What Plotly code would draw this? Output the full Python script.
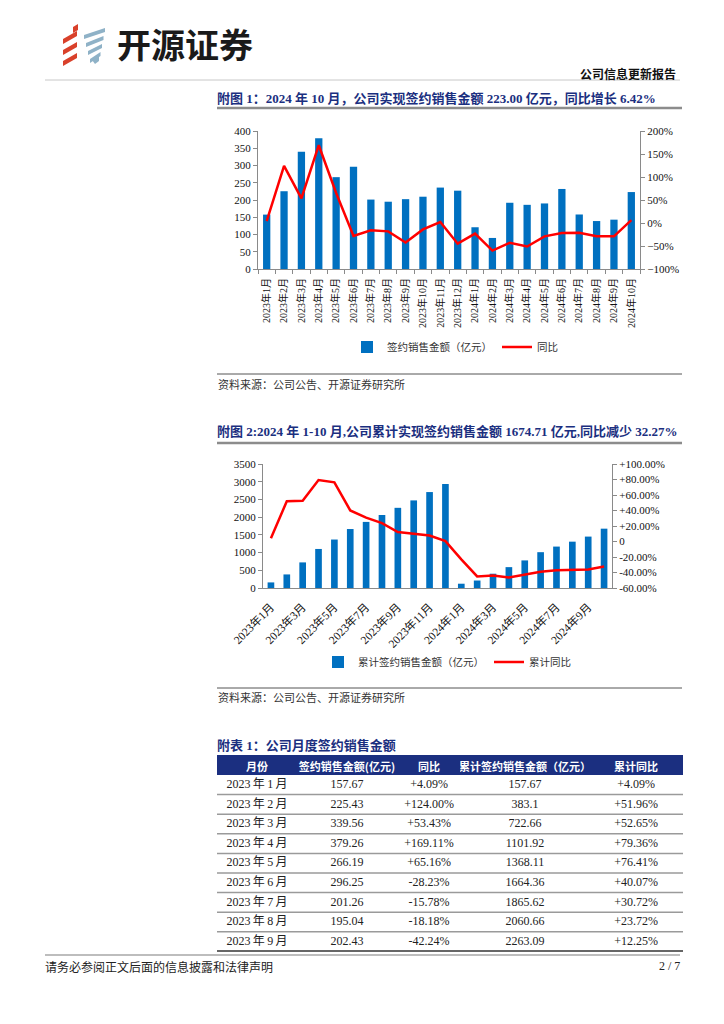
import plotly.graph_objects as go

# The page body adds an 8px margin around the figure, so the figure is 16px smaller
# than the window and page-pixel coordinates are converted with that offset.
OFF = 8
W, H = 724 - 2 * OFF, 1024 - 2 * OFF

# ---------------- data ----------------
categories = [f"2023年{m}月" for m in range(1, 13)] + [f"2024年{m}月" for m in range(1, 11)]
monthly_sales = [157.67, 225.43, 339.56, 379.26, 266.19, 296.25, 201.26, 195.04, 202.43,
                 209.55, 236.0, 227.0, 121.0, 90.0, 192.0, 186.0, 190.0, 232.0, 158.0,
                 139.0, 143.0, 223.00]
monthly_yoy = [4.09, 124.00, 53.43, 169.11, 65.16, -28.23, -15.78, -18.18, -42.24,
               -14.0, 2.0, -45.0, -23.0, -60.0, -43.0, -51.0, -29.0, -22.0, -21.0,
               -29.0, -29.0, 6.42]
cum_sales = [157.67, 383.1, 722.66, 1101.92, 1368.11, 1664.36, 1865.62, 2060.66, 2263.09,
             2472.6, 2708.0, 2935.0, 121.0, 211.0, 403.0, 589.0, 779.0, 1011.0, 1169.0,
             1308.0, 1451.0, 1674.71]
cum_yoy = [4.09, 51.96, 52.65, 79.36, 76.41, 40.07, 30.72, 23.72, 12.25,
           9.5, 7.7, 0.5, -23.0, -45.0, -44.0, -46.5, -43.0, -39.0, -37.0, -36.5,
           -36.0, -32.27]

chart2_ticks = categories[0::2]
y2_right_vals = [-60, -40, -20, 0, 20, 40, 60, 80, 100]
y2_right_text = ["-60.00%", "-40.00%", "-20.00%", "0", "+20.00%", "+40.00%",
                 "+60.00%", "+80.00%", "+100.00%"]

table_rows = 9
table_header = ["月份", "签约销售金额(亿元)", "同比", "累计签约销售金额（亿元）", "累计同比"]
table_months = [f"2023\u2009年\u2009{m}\u2009月" for m in range(1, table_rows + 1)]

# ---------------- helpers ----------------
def X(px):
    return (px - OFF) / W

def Y(py):
    return 1 - (py - OFF) / H

SERIF = "Liberation Serif, Noto Sans CJK SC, serif"
CJK = "Noto Sans CJK SC, sans-serif"
NAVY = "#1B2F80"
BLUE = "#0070C0"
RED = "#FF0000"
AX = "#8a8a8a"
CLEAR = "rgba(0,0,0,0)"

fig = go.Figure()

# ---------------- chart 1 ----------------
fig.add_trace(go.Bar(x=categories, y=monthly_sales, name="签约销售金额（亿元）",
                     marker_color=BLUE, xaxis="x", yaxis="y", legend="legend"))
fig.add_trace(go.Scatter(x=categories, y=monthly_yoy, name="同比", mode="lines",
                         line=dict(color=RED, width=2.5), xaxis="x", yaxis="y2",
                         legend="legend"))

# ---------------- chart 2 ----------------
fig.add_trace(go.Bar(x=categories, y=cum_sales, name="累计签约销售金额（亿元）",
                     marker_color=BLUE, xaxis="x2", yaxis="y3", legend="legend2"))
fig.add_trace(go.Scatter(x=categories, y=cum_yoy, name="累计同比", mode="lines",
                         line=dict(color=RED, width=2.5), xaxis="x2", yaxis="y4",
                         legend="legend2"))

# ---------------- table ----------------
fig.add_trace(go.Table(
    domain=dict(x=[X(217), X(683)], y=[Y(951), Y(755)]),
    columnwidth=[80, 100, 64, 128, 94],
    header=dict(values=table_header,
                fill_color=CLEAR, line_color=CLEAR, align="center", height=16,
                font=dict(family=CJK, size=11, color="white", weight="bold")),
    cells=dict(values=[table_months,
                       [f"{v:.2f}" for v in monthly_sales[:table_rows]],
                       [f"{v:+.2f}%" for v in monthly_yoy[:table_rows]],
                       [f"{v:g}" for v in cum_sales[:table_rows]],
                       [f"{v:+.2f}%" for v in cum_yoy[:table_rows]]],
               fill_color=CLEAR, line_color=CLEAR, align="center",
               height=19.6, font=dict(family=SERIF, size=12, color="#222"))
))

axis_common = dict(showline=True, linecolor=AX, linewidth=1, ticks="outside",
                   tickcolor=AX, ticklen=4, showgrid=False, zeroline=False,
                   automargin=False,
                   tickfont=dict(family=SERIF, size=11, color="#111"))
axis_nofont = {k: v for k, v in axis_common.items() if k != "tickfont"}

fig.update_layout(
    template="none",
    width=W, height=H, margin=dict(l=0, r=0, t=0, b=0, pad=0, autoexpand=False),
    paper_bgcolor="white", plot_bgcolor="white", showlegend=True,
    bargap=0.58,
    xaxis=dict(domain=[X(258), X(640)], anchor="y", type="category",
               tickangle=-90, tickson="boundaries", ticklabelstandoff=4, **axis_nofont,
               tickfont=dict(family=SERIF, size=10, color="#111")),
    yaxis=dict(domain=[Y(269), Y(131)], anchor="x", range=[0, 400], dtick=50,
               **axis_common),
    yaxis2=dict(overlaying="y", side="right", anchor="x", range=[-100, 200], dtick=50,
                ticksuffix="%", **axis_common),
    xaxis2=dict(domain=[X(263), X(612)], anchor="y3", type="category",
                tickangle=-45, tickvals=chart2_ticks, ticktext=chart2_ticks,
                showline=True, linecolor=AX, linewidth=1, ticks="", showgrid=False,
                zeroline=False, automargin=False, ticklabelstandoff=7,
                tickfont=dict(family=SERIF, size=11.5, color="#111")),
    yaxis3=dict(domain=[Y(588), Y(464)], anchor="x2", range=[0, 3500], dtick=500,
                **axis_common),
    yaxis4=dict(overlaying="y3", side="right", anchor="x2", range=[-60, 100],
                tickvals=y2_right_vals, ticktext=y2_right_text, **axis_common),
    legend=dict(orientation="h", x=X(347), y=Y(347), xanchor="left", yanchor="middle",
                font=dict(family=CJK, size=10.5, color="#333"), bgcolor=CLEAR,
                traceorder="normal", itemwidth=30),
    legend2=dict(orientation="h", x=X(318), y=Y(662), xanchor="left", yanchor="middle",
                 font=dict(family=CJK, size=10.5, color="#333"), bgcolor=CLEAR,
                 traceorder="normal", itemwidth=30),
)

# ---------------- shapes ----------------
shapes = []

def hline(py, x0, x1, color, width):
    shapes.append(dict(type="line", xref="paper", yref="paper", x0=X(x0), x1=X(x1),
                       y0=Y(py), y1=Y(py), line=dict(color=color, width=width),
                       layer="above"))

# table header band (drawn beneath the table text)
shapes.append(dict(type="rect", xref="paper", yref="paper", x0=X(217), x1=X(683),
                   y0=Y(775), y1=Y(755), fillcolor=NAVY, line=dict(width=0),
                   layer="below"))

hline(80, 45, 680, "#c8c8c8", 1)        # header rule
hline(108, 217, 682, "#8c8c8c", 2.5)     # chart 1 title rule
hline(374, 217, 682, "#555555", 1)       # chart 1 source rule
hline(443, 217, 682, "#8c8c8c", 2.5)     # chart 2 title rule
hline(688, 217, 682, "#555555", 1)       # chart 2 source rule
for i in range(1, table_rows):
    hline(775 + 19.6 * i, 217, 683, "#9a9a9a", 1.5)
hline(951, 217, 683, "#333333", 1.5)
hline(955, 45, 680, "#bdbdbd", 2)        # footer rule

def poly(pts, color):
    d = "M" + " L".join(f"{X(px)},{Y(py)}" for px, py in pts) + " Z"
    shapes.append(dict(type="path", xref="paper", yref="paper", path=d,
                       fillcolor=color, line=dict(width=0)))

# logo (approximation)
RED_L = "#D9412B"
BLUE_L = "#8FB2C7"
for k in range(3):
    y0 = 29 + k * 11
    poly([(63, y0 + 10), (77, y0 + 2), (77, y0 + 7), (63, y0 + 15)], RED_L)
poly([(73, 27), (78, 24), (78, 30), (73, 33)], RED_L)
for k in range(4):
    y0 = 28 + k * 8
    poly([(84 + k * 2, y0 + 7), (105 - k * 1.5, y0), (105 - k * 1.5, y0 + 4), (84 + k * 2, y0 + 11)], BLUE_L)
poly([(92, 60), (99, 56), (99, 61), (95, 64)], BLUE_L)

fig.update_layout(shapes=shapes)

# ---------------- text ----------------
ann = []

def text(px, py, s, size, color="#111", family=CJK, xanchor="left", yanchor="middle"):
    dx = -2 if xanchor == "left" else 2
    ann.append(dict(xref="paper", yref="paper", x=X(px + dx), y=Y(py), text=s, showarrow=False,
                    xanchor=xanchor, yanchor=yanchor,
                    font=dict(family=family, size=size, color=color)))

text(117, 44, "<b>开源证券</b>", 34, "#1a1a1a")
text(676, 73, "<b>公司信息更新报告</b>", 12, "#111", xanchor="right")
text(217, 98, "<b>附图 1：2024 年 10 月，公司实现签约销售金额 223.00 亿元，同比增长 6.42%</b>",
     13, NAVY, SERIF)
text(218, 384, "资料来源：公司公告、开源证券研究所", 11, "#333")
text(217, 431, "<b>附图 2:2024 年 1-10 月,公司累计实现签约销售金额 1674.71 亿元,同比减少 32.27%</b>",
     13, NAVY, SERIF)
text(218, 697, "资料来源：公司公告、开源证券研究所", 11, "#333")
text(217, 745, "<b>附表 1：公司月度签约销售金额</b>", 13, NAVY, SERIF)
text(45, 966, "请务必参阅正文后面的信息披露和法律声明", 12, "#222")
text(680, 966, "2 / 7", 12, "#222", SERIF, xanchor="right")

fig.update_layout(annotations=ann)

fig.write_html("out.html")
